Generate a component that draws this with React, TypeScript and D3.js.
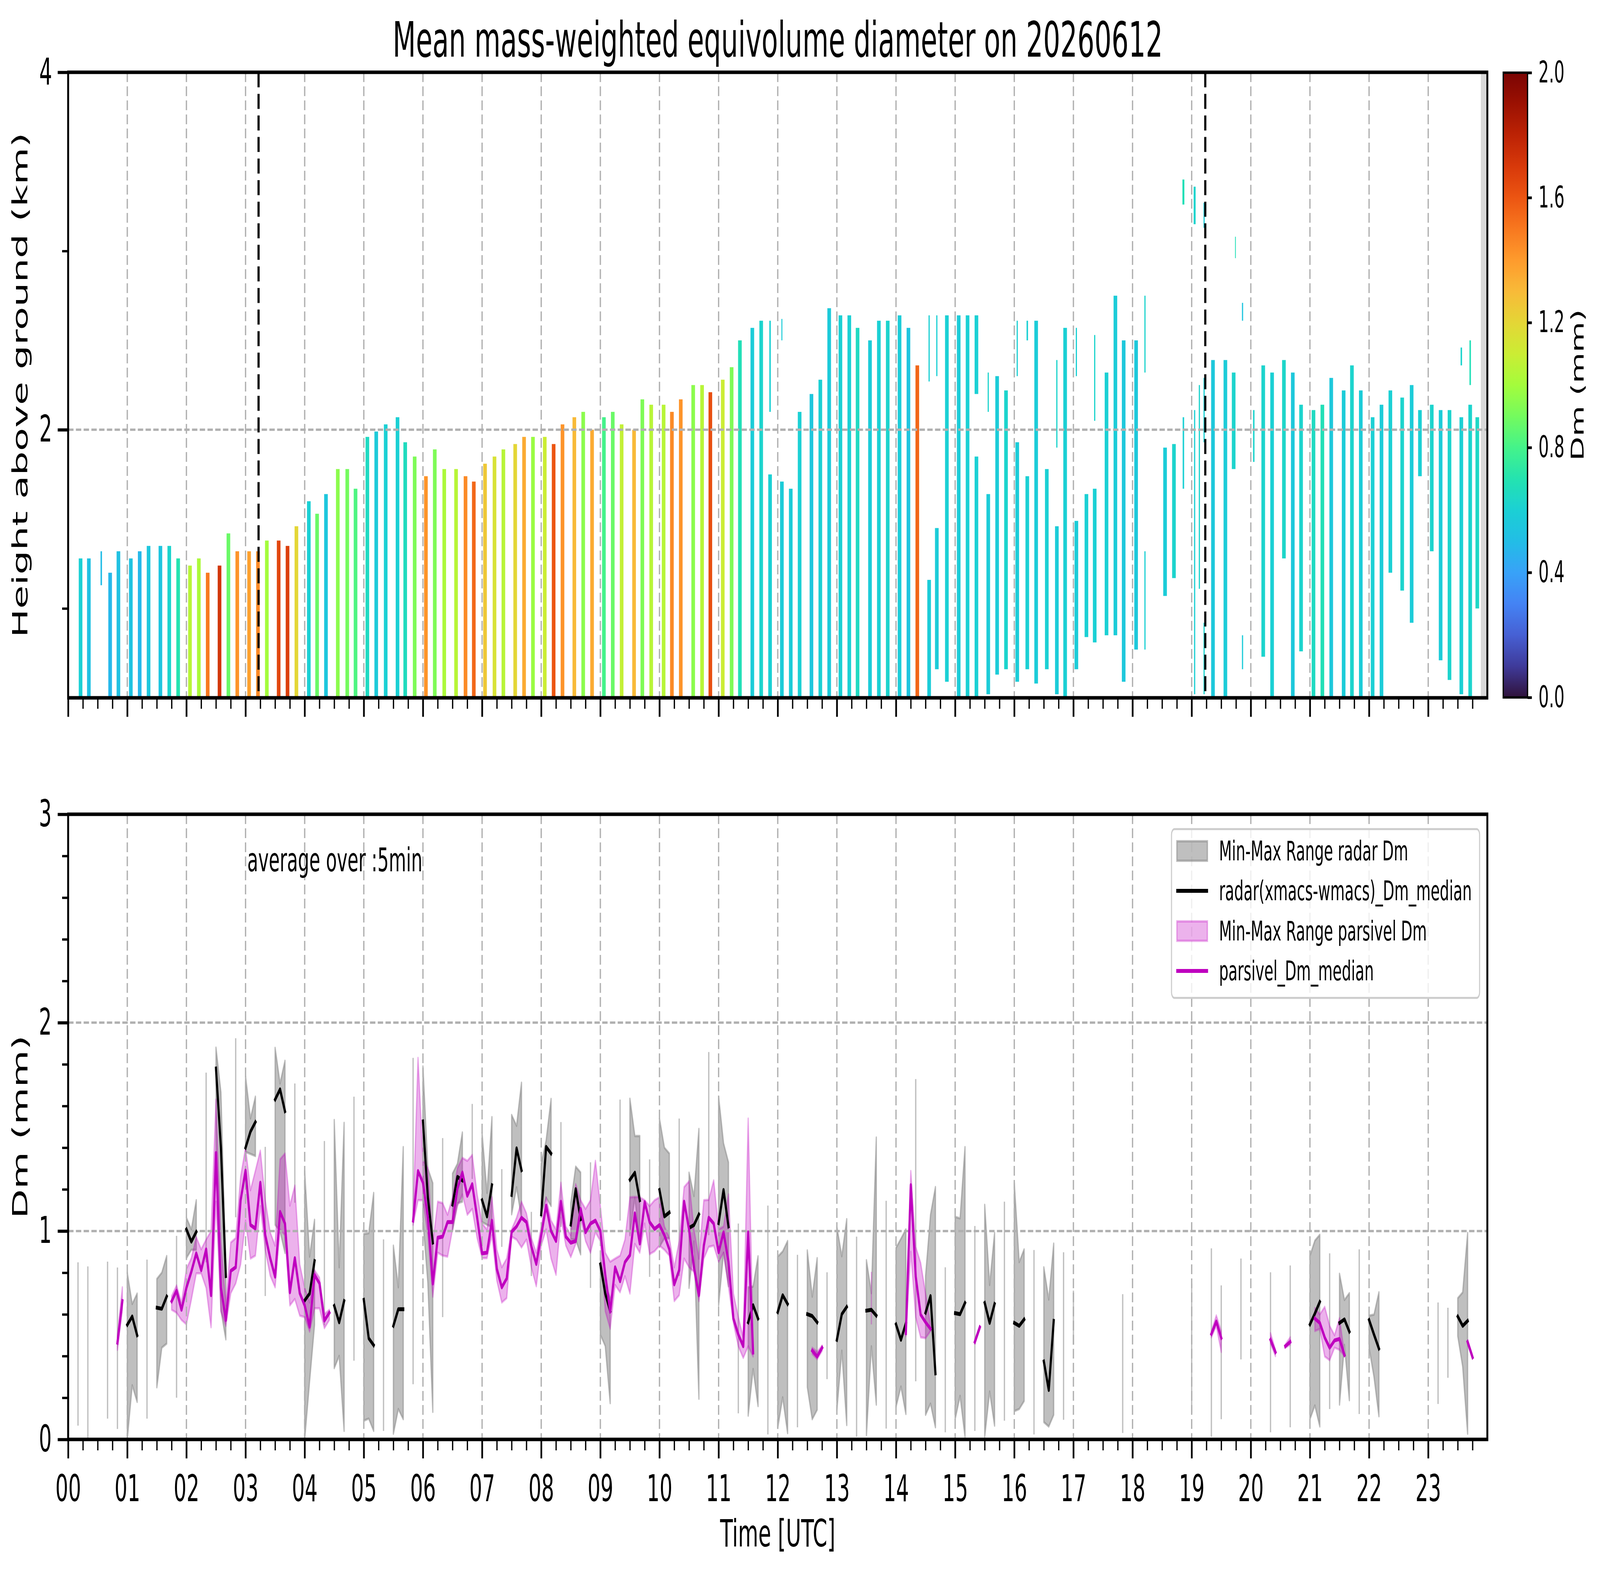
import React, { useEffect, useRef } from "react";
import * as d3 from "d3";

// ---------------- data ----------------
const TITLE = "Mean mass-weighted equivolume diameter on 20260612";
const hourLabels = ["00","01","02","03","04","05","06","07","08","09","10","11","12","13","14","15","16","17","18","19","20","21","22","23"];
const heightTicks = [2, 4];
const heightMinorTicks = [1, 3];
const dmAxisTicks = [0, 1, 2, 3];
const dmColorTicks = [0, 0.4, 0.8, 1.2, 1.6, 2.0];
const eventLines = [3.22, 19.23]; // hours (UTC)
const missingSpan = [23.89, 24.0];

// colour map anchors (0 -> 2 mm)
const cmapColors = ["#30123b","#3f3a9a","#4660d4","#4483f4","#38a2f8","#22bde6","#1bd0d4","#24e3b0","#44f38a","#74fb5e",
  "#a4fc3c","#cbed34","#e4d636","#f8ba38","#fe9b2d","#f8781f","#ec5512","#d8390a","#bc2305","#9c1102","#7a0403"];

// radar profiles: [hour, base km, top km, Dm mm, scan minutes]
const profiles: number[][] = [
  [0.21,0.5,1.28,0.60,3.7],[0.35,0.5,1.28,0.52,3.7],[0.56,1.13,1.32,0.50,1.5],[0.71,0.5,1.20,0.48,3.7],
  [0.85,0.5,1.32,0.52,3.7],[1.06,0.5,1.28,0.53,3.7],[1.21,0.5,1.32,0.48,3.7],[1.36,0.5,1.35,0.55,3.7],
  [1.56,0.5,1.35,0.54,3.7],[1.71,0.5,1.35,0.62,3.7],[1.86,0.5,1.28,0.70,3.7],[2.06,0.5,1.24,1.05,3.7],
  [2.21,0.5,1.28,1.02,3.7],[2.36,0.5,1.20,1.50,3.7],[2.56,0.5,1.24,1.72,3.7],[2.71,0.5,1.42,0.88,3.7],
  [2.86,0.5,1.32,1.42,3.7],[3.06,0.5,1.32,1.38,3.7],[3.21,0.5,1.32,1.45,3.7],[3.36,0.5,1.38,1.00,3.7],
  [3.56,0.5,1.38,1.65,3.7],[3.71,0.5,1.35,1.68,3.7],[3.86,0.5,1.46,1.20,3.7],[4.07,0.5,1.60,0.60,3.7],
  [4.21,0.5,1.53,0.88,3.7],[4.36,0.5,1.64,0.55,3.7],[4.56,0.5,1.78,0.95,3.7],[4.72,0.5,1.78,0.90,3.7],
  [4.86,0.5,1.67,0.82,3.7],[5.06,0.5,1.96,0.65,3.7],[5.21,0.5,1.99,0.57,3.7],[5.37,0.5,2.03,0.60,3.7],
  [5.57,0.5,2.07,0.60,3.7],[5.70,0.5,1.93,0.66,3.7],[5.86,0.5,1.85,0.92,3.7],[6.05,0.5,1.74,1.42,3.7],
  [6.20,0.5,1.89,0.92,3.7],[6.36,0.5,1.78,1.02,3.7],[6.56,0.5,1.78,1.05,3.7],[6.72,0.5,1.74,1.45,3.7],
  [6.86,0.5,1.71,1.55,3.7],[7.05,0.5,1.81,1.25,3.7],[7.21,0.5,1.85,1.15,3.7],[7.36,0.5,1.89,1.05,3.7],
  [7.56,0.5,1.92,1.20,3.7],[7.71,0.5,1.96,1.35,3.7],[7.86,0.5,1.96,0.98,3.7],[8.06,0.5,1.96,1.10,3.7],
  [8.21,0.5,1.92,1.60,3.7],[8.36,0.5,2.03,1.42,3.7],[8.56,0.5,2.07,1.30,3.7],[8.71,0.5,2.10,0.95,3.7],
  [8.86,0.5,2.00,1.35,3.7],[9.06,0.5,2.07,0.80,3.7],[9.21,0.5,2.10,0.88,3.7],[9.36,0.5,2.03,1.08,3.7],
  [9.57,0.5,2.00,1.30,3.7],[9.71,0.5,2.17,0.92,3.7],[9.86,0.5,2.14,1.05,3.7],[10.07,0.5,2.14,1.05,3.7],
  [10.21,0.5,2.10,1.45,3.7],[10.36,0.5,2.17,1.42,3.7],[10.57,0.5,2.25,0.95,3.7],[10.72,0.5,2.25,1.05,3.7],
  [10.86,0.5,2.21,1.62,3.7],[11.07,0.5,2.28,1.10,3.7],[11.22,0.5,2.35,0.92,3.7],[11.36,0.5,2.50,0.68,3.7],
  [11.57,0.5,2.57,0.58,3.7],[11.72,0.5,2.61,0.62,3.7],[11.87,2.10,2.61,0.60,1.5],[11.87,0.5,1.75,0.60,3.7],
  [12.07,0.5,1.71,0.58,3.7],[12.07,2.50,2.62,0.58,1.0],[12.22,0.5,1.67,0.58,3.7],[12.37,0.5,2.10,0.60,3.7],
  [12.57,0.5,2.20,0.55,3.7],[12.72,0.5,2.28,0.60,3.7],[12.87,0.5,2.68,0.57,3.7],[13.06,0.5,2.64,0.60,3.7],
  [13.21,0.5,2.64,0.60,3.7],[13.35,0.5,2.57,0.65,3.7],[13.56,0.5,2.50,0.58,3.7],[13.71,0.5,2.61,0.60,3.7],
  [13.86,0.5,2.61,0.62,3.7],[14.06,0.5,2.64,0.58,3.7],[14.21,0.5,2.57,0.54,3.7],[14.36,0.5,2.36,1.55,3.7],
  [14.56,2.27,2.64,0.60,1.2],[14.56,0.5,1.16,0.58,3.7],[14.69,2.30,2.64,0.60,1.2],[14.69,0.66,1.45,0.58,3.7],
  [14.86,0.59,2.64,0.60,3.7],[15.06,0.5,2.64,0.58,3.7],[15.21,0.5,2.64,0.60,3.7],[15.36,2.20,2.64,0.60,3.7],
  [15.36,0.5,1.85,0.60,3.7],[15.56,2.10,2.32,0.62,1.2],[15.56,0.52,1.64,0.58,3.7],[15.71,0.63,2.30,0.58,3.7],
  [15.86,0.66,2.22,0.62,3.7],[16.05,2.30,2.61,0.60,1.2],[16.05,0.59,1.93,0.58,3.7],[16.22,2.50,2.61,0.60,1.5],
  [16.22,0.66,1.74,0.60,3.7],[16.37,0.58,2.61,0.58,3.7],[16.55,0.66,1.78,0.60,3.7],[16.72,1.90,2.39,0.62,1.2],
  [16.72,0.52,1.46,0.58,3.7],[16.86,0.5,2.57,0.60,3.7],[17.05,2.30,2.57,0.60,1.2],[17.05,0.66,1.49,0.58,3.7],
  [17.22,0.84,1.64,0.60,3.7],[17.36,2.05,2.53,0.62,1.2],[17.36,0.81,1.67,0.60,3.7],[17.56,0.85,2.32,0.60,3.7],
  [17.71,0.85,2.75,0.58,3.7],[17.85,0.59,2.50,0.56,3.7],[18.06,0.77,2.50,0.56,3.7],[18.21,2.32,2.75,0.62,1.2],
  [18.21,0.77,1.32,0.60,1.2],[18.55,1.07,1.90,0.58,3.7],[18.70,1.17,1.92,0.62,3.7],[18.86,3.26,3.40,0.68,2.0],
  [18.86,1.67,2.07,0.60,1.5],[19.05,3.15,3.36,0.62,2.0],[19.05,0.52,2.11,0.60,1.2],[19.13,1.11,2.25,0.62,1.2],
  [19.21,3.13,3.27,0.58,1.2],[19.21,1.93,2.29,0.60,1.2],[19.21,0.52,0.92,0.62,1.2],[19.36,0.5,2.39,0.56,3.7],
  [19.57,0.5,2.39,0.58,3.7],[19.71,1.78,2.32,0.62,3.7],[19.74,2.96,3.08,0.68,0.8],[19.86,2.61,2.71,0.54,1.2],
  [19.86,0.66,0.85,0.58,1.2],[20.05,1.82,2.11,0.62,1.5],[20.21,0.73,2.36,0.62,3.7],[20.36,0.5,2.32,0.60,3.7],
  [20.56,1.28,2.39,0.63,3.7],[20.71,0.5,2.32,0.56,3.7],[20.85,0.76,2.14,0.62,3.7],[21.06,0.5,2.11,0.65,3.7],
  [21.21,0.5,2.14,0.68,3.7],[21.36,0.5,2.29,0.56,3.7],[21.57,0.5,2.22,0.58,3.7],[21.71,0.5,2.36,0.62,3.7],
  [21.86,0.5,2.22,0.58,3.7],[22.06,0.5,2.07,0.60,3.7],[22.21,0.5,2.14,0.58,3.7],[22.36,1.20,2.22,0.60,3.7],
  [22.56,1.10,2.18,0.62,3.7],[22.72,0.92,2.25,0.58,3.7],[22.86,1.74,2.11,0.60,3.7],[23.06,1.32,2.14,0.62,3.7],
  [23.21,0.71,2.11,0.58,3.7],[23.36,0.60,2.11,0.62,3.7],[23.56,2.36,2.46,0.62,1.5],[23.56,0.52,2.07,0.60,3.7],
  [23.71,2.25,2.50,0.68,1.5],[23.71,0.5,2.14,0.62,3.7],[23.83,1.00,2.07,0.64,3.7],
];

// radar Dm 5-min stats: [minute of day, min, max, median]
const radarDm: (number | null)[][] = [
  [10,0.066,0.85,null],[20,0.006,0.83,null],[40,0.10,0.853,null],[50,0.05,0.825,null],
  [60,0.0,0.80,0.55],[65,0.26,0.65,0.59],[70,0.18,0.70,0.50],[80,0.10,0.863,null],
  [90,0.25,0.77,0.632],[95,0.44,0.80,0.627],[100,0.46,0.88,0.686],[110,0.20,0.977,null],
  [120,0.87,1.064,1.008],[125,0.91,1.008,0.949],[130,0.91,1.148,0.996],[140,0.85,1.76,null],
  [150,1.35,1.88,1.78],[155,0.62,1.666,1.40],[160,0.48,0.82,0.784],[170,1.066,1.925,null],
  [180,1.38,1.743,1.40],[185,1.37,1.54,1.477],[190,1.36,1.645,1.523],[200,0.688,1.404,null],
  [210,1.03,1.879,1.631],[215,1.0,1.708,1.68],[220,0.895,1.817,1.575],[230,1.136,1.708,null],
  [240,0.0,1.288,0.667],[245,0.28,0.877,0.70],[250,0.55,1.054,0.856],[260,0.548,1.432,null],
  [270,0.342,1.533,0.641],[275,0.401,0.826,0.562],[280,0.041,1.519,0.664],[290,0.378,1.645,null],
  [300,0.09,0.986,0.67],[305,0.10,0.99,0.485],[310,0.041,1.183,0.452],[320,0.041,0.96,null],
  [330,0.027,0.93,0.545],[335,0.146,0.73,0.625],[340,0.097,1.403,0.625],[350,0.265,1.831,null],
  [360,1.05,1.79,1.526],[365,0.75,1.30,1.16],[370,0.132,1.23,0.945],[380,0.587,1.446,null],
  [390,1.0,1.276,1.127],[395,1.134,1.323,1.26],[400,1.141,1.473,1.243],[410,1.25,1.61,null],
  [420,1.043,1.47,1.148],[425,1.03,1.183,1.07],[430,1.02,1.547,1.22],[440,0.924,1.297,null],
  [450,1.08,1.557,1.173],[455,1.21,1.505,1.397],[460,1.06,1.712,1.292],[470,0.784,1.092,null],
  [480,1.08,1.323,1.08],[485,1.16,1.435,1.404],[490,1.12,1.634,1.372],[500,1.02,1.523,null],
  [510,0.96,1.134,1.031],[515,0.96,1.309,1.201],[520,0.888,1.281,1.057],[530,0.727,1.33,null],
  [540,0.503,0.87,0.84],[545,0.448,0.74,0.70],[550,0.174,0.68,0.616],[560,1.05,1.631,null],
  [570,0.98,1.635,1.246],[575,1.16,1.456,1.28],[580,0.94,1.456,1.148],[590,0.78,1.344,null],
  [600,0.924,1.54,1.197],[605,0.965,1.40,1.07],[610,0.965,1.372,1.089],[620,0.784,1.54,null],
  [630,0.727,1.28,1.015],[635,0.95,1.168,1.029],[640,0.195,1.49,1.08],[650,0.98,1.859,null],
  [660,0.643,1.645,1.038],[665,0.896,1.421,1.197],[670,0.735,1.33,1.022],[680,0.125,1.036,null],
  [690,0.114,0.73,0.562],[695,0.338,0.734,0.644],[700,0.16,0.879,0.58],[710,0.024,1.122,null],
  [720,0.055,0.877,0.611],[725,0.202,0.902,0.692],[730,0.03,0.952,0.65],[740,0.058,0.886,null],
  [750,0.251,0.907,0.601],[755,0.097,0.685,0.592],[760,0.142,0.87,0.562],[770,0.289,0.802,null],
  [780,0.139,1.02,0.478],[785,0.426,0.879,0.601],[790,0.069,1.057,0.636],[800,0.013,0.973,null],
  [810,0.02,0.86,0.618],[815,0.447,0.702,0.622],[820,0.167,1.449,0.594],[830,0.052,1.145,null],
  [840,0.156,0.919,0.552],[845,0.254,0.963,0.478],[850,0.122,1.008,0.557],[860,0.279,1.729,null],
  [870,0.118,0.784,0.608],[875,0.172,1.078,0.688],[880,0.058,1.211,0.317],[890,0.034,0.826,null],
  [900,0.097,1.068,0.606],[905,0.209,1.061,0.601],[910,0.013,1.403,0.655],[920,0.041,1.024,null],
  [930,0.013,1.126,0.655],[935,0.23,0.741,0.559],[940,0.066,0.991,0.65],[950,0.09,1.141,null],
  [960,0.136,1.232,0.559],[965,0.146,0.851,0.545],[970,0.184,0.912,0.576],[980,0.024,0.909,null],
  [990,0.083,0.826,0.374],[995,0.062,0.671,0.237],[1000,0.118,0.94,0.569],[1010,0.094,0.898,null],
  [1020,0.454,0.714,null],[1070,0.031,0.697,null],[1140,0.125,0.748,null],[1160,0.013,0.917,null],
  [1170,0.097,0.739,null],[1190,0.384,0.868,null],[1220,0.034,0.802,null],[1240,0.058,0.835,null],
  [1260,0.097,0.881,0.552],[1265,0.163,0.954,0.604],[1270,0.062,0.982,0.66],[1280,0.146,0.893,null],
  [1290,0.167,0.795,0.559],[1295,0.454,0.669,0.576],[1300,0.188,0.702,0.517],[1310,0.122,0.912,null],
  [1320,0.44,0.594,0.573],[1325,0.30,0.599,0.503],[1330,0.111,0.706,0.436],[1390,0.17,0.657,null],
  [1400,0.296,0.632,null],[1410,0.496,0.678,0.59],[1415,0.349,0.706,0.545],[1420,0.027,0.991,0.569],
];

// parsivel Dm 5-min stats: [minute of day, min, max, median]
const parsivelDm: number[][] = [
  [50,0.43,0.50,0.464],[55,0.62,0.73,0.664],
  [105,0.622,0.688,0.663],[110,0.608,0.739,0.714],[115,0.573,0.657,0.622],[120,0.552,0.818,0.728],
  [125,0.671,0.87,0.805],[130,0.797,0.971,0.893],[135,0.797,0.912,0.812],[140,0.727,0.959,0.912],
  [145,0.538,1.0,0.692],[150,1.141,1.631,1.375],[155,0.615,0.95,0.728],[160,0.545,0.643,0.573],
  [165,0.702,0.945,0.809],[170,0.748,0.966,0.826],[175,0.84,1.26,1.148],[180,1.05,1.40,1.29],
  [185,0.868,1.196,1.029],[190,0.882,1.29,1.012],[195,1.12,1.386,1.232],[200,0.91,1.148,0.98],
  [205,0.786,0.994,0.87],[210,0.73,0.93,0.781],[215,1.008,1.344,1.092],[220,0.98,1.372,1.036],
  [225,0.643,1.122,0.706],[230,0.674,1.218,0.87],[235,0.594,0.84,0.702],[240,0.587,0.728,0.643],
  [245,0.517,0.657,0.541],[250,0.629,0.812,0.79],[255,0.629,0.776,0.749],[260,0.534,0.601,0.57],
  [265,0.573,0.622,0.608],
  [350,1.03,1.08,1.05],[355,1.148,1.831,1.288],[360,1.148,1.34,1.232],[365,0.98,1.302,1.064],
  [370,0.685,0.938,0.748],[375,0.896,1.141,0.968],[380,0.882,1.134,0.973],[385,0.877,1.078,1.043],
  [390,1.008,1.162,1.043],[395,1.12,1.302,1.204],[400,1.176,1.351,1.281],[405,1.078,1.337,1.169],
  [410,1.106,1.365,1.225],[415,0.966,1.176,1.064],[420,0.87,1.036,0.893],[425,0.87,1.008,0.896],
  [430,0.98,1.162,1.05],[435,0.762,0.91,0.818],[440,0.657,0.826,0.73],[445,0.678,0.868,0.772],
  [450,0.973,1.008,0.996],[455,0.959,1.064,1.022],[460,0.921,1.141,1.064],[465,0.959,1.085,1.043],
  [470,0.826,0.966,0.926],[475,0.735,0.896,0.842],[480,0.93,1.022,0.98],[485,1.008,1.162,1.122],
  [490,0.868,1.05,1.0],[495,0.79,1.008,0.952],[500,1.064,1.232,1.141],[505,0.93,1.022,0.973],
  [510,0.875,0.98,0.944],[515,0.938,1.225,0.952],[520,1.064,1.148,1.106],[525,0.952,1.106,0.994],
  [530,0.896,1.148,1.036],[535,0.994,1.337,1.05],[540,0.952,1.12,1.0],[545,0.615,0.896,0.79],
  [550,0.531,0.853,0.613],[555,0.741,0.868,0.826],[560,0.706,0.882,0.759],[565,0.783,0.959,0.851],
  [570,0.70,1.162,0.884],[575,0.938,1.164,1.085],[580,0.896,1.162,0.94],[585,1.036,1.148,1.139],
  [590,0.889,1.12,1.043],[595,0.903,1.148,1.01],[600,0.93,1.162,1.029],[605,0.91,1.022,0.98],
  [610,0.882,0.966,0.912],[615,0.664,0.826,0.744],[620,0.692,0.952,0.812],[625,0.868,1.211,1.141],
  [630,0.826,1.239,1.008],[635,0.804,1.008,0.826],[640,0.664,0.868,0.692],[645,0.868,1.148,0.93],
  [650,0.924,1.15,1.064],[655,0.93,1.243,1.036],[660,0.853,1.008,0.898],[665,0.896,1.022,0.994],
  [670,0.735,1.176,0.853],[675,0.559,0.70,0.58],[680,0.447,0.587,0.503],[685,0.391,0.489,0.447],
  [690,0.447,1.54,0.994],[695,0.398,0.475,0.417],
  [755,0.41,0.44,0.426],[760,0.385,0.42,0.398],[765,0.425,0.45,0.44],
  [815,0.552,0.804,0.68],
  [850,0.496,0.52,0.51],[855,0.9,1.288,1.22],[860,0.587,0.924,0.781],[865,0.49,0.847,0.599],
  [870,0.486,0.70,0.562],[875,0.52,0.55,0.531],
  [920,0.46,0.475,0.468],[925,0.53,0.545,0.538],
  [1160,0.49,0.52,0.506],[1165,0.545,0.595,0.566],[1170,0.42,0.52,0.487],
  [1220,0.46,0.51,0.478],[1225,0.40,0.43,0.419],[1235,0.44,0.455,0.447],[1240,0.455,0.49,0.468],
  [1265,0.52,0.63,0.58],[1270,0.53,0.60,0.559],[1275,0.398,0.636,0.489],[1280,0.38,0.545,0.44],
  [1285,0.44,0.50,0.475],[1290,0.43,0.582,0.482],[1295,0.40,0.41,0.405],
  [1420,0.46,0.475,0.468],[1425,0.39,0.40,0.394],
];

const legendLabels = [
  "Min-Max Range radar Dm",
  "radar(xmacs-wmacs)_Dm_median",
  "Min-Max Range parsivel Dm",
  "parsivel_Dm_median",
];

// ---------------- drawing ----------------
const W = 7442, H = 4031;
const FONT = "DejaVu Sans";

function splitRuns(rows: any[][]): any[][][] {
  const out: any[][][] = [];
  let cur: any[][] = [];
  rows.forEach((r) => {
    if (cur.length && r[0] - cur[cur.length - 1][0] > 5) { out.push(cur); cur = []; }
    cur.push(r);
  });
  if (cur.length) out.push(cur);
  return out;
}

function draw(svgEl: SVGSVGElement) {
  const svg = d3.select(svgEl);
  svg.selectAll("*").remove();
  svg.append("rect").attr("width", W).attr("height", H).attr("fill", "#fff");

  const L = 317, R = 6918;
  const tTop = 185, tBot = 1786;
  const bTop = 2084, bBot = 3684;
  const x = d3.scaleLinear().domain([0, 24]).range([L, R]);
  const yT = d3.scaleLinear().domain([0.5, 4]).range([tBot, tTop]);
  const yB = d3.scaleLinear().domain([0, 3]).range([bBot, bTop]);
  const color = d3.scaleSequential(d3.piecewise(d3.interpolateRgb, cmapColors)).domain([0, 2]);

  const defs = svg.append("defs");
  defs.append("clipPath").attr("id", "clipTop").append("rect").attr("x", L).attr("y", tTop).attr("width", R - L).attr("height", tBot - tTop);
  defs.append("clipPath").attr("id", "clipBot").append("rect").attr("x", L).attr("y", bTop).attr("width", R - L).attr("height", bBot - bTop);

  const gridStyle = (sel: any) => sel.attr("stroke", "#b0b0b0").attr("stroke-width", 6).attr("stroke-dasharray", "25,11").attr("fill", "none");
  const hours = d3.range(1, 24);

  // ---------- top panel ----------
  const gt = svg.append("g").attr("clip-path", "url(#clipTop)");
  gt.append("rect").attr("x", x(missingSpan[0])).attr("y", tTop).attr("width", x(missingSpan[1]) - x(missingSpan[0])).attr("height", tBot - tTop).attr("fill", "#d9d9d9");
  gt.selectAll("rect.prof").data(profiles).enter().append("rect")
    .attr("x", (d) => x(d[0] - d[4] / 120))
    .attr("width", (d) => x(d[4] / 60) - x(0))
    .attr("y", (d) => yT(d[2]))
    .attr("height", (d) => yT(d[1]) - yT(d[2]))
    .attr("fill", (d) => color(d[3]));
  gt.selectAll("line.vg").data(hours).enter().append("line")
    .attr("x1", (d) => x(d)).attr("x2", (d) => x(d)).attr("y1", tTop).attr("y2", tBot).call(gridStyle);
  gt.append("line").attr("x1", L).attr("x2", R).attr("y1", yT(2)).attr("y2", yT(2)).call(gridStyle);
  gt.selectAll("line.ev").data(eventLines).enter().append("line")
    .attr("x1", (d) => x(d)).attr("x2", (d) => x(d)).attr("y1", tTop).attr("y2", tBot)
    .attr("stroke", "#000").attr("stroke-width", 10).attr("stroke-dasharray", "38.5,16.7");

  // ---------- bottom panel ----------
  const gb = svg.append("g").attr("clip-path", "url(#clipBot)");
  const radarRuns = splitRuns(radarDm);
  const parsRuns = splitRuns(parsivelDm);
  const area = d3.area<any>().x((d) => x(d[0] / 60)).y0((d) => yB(d[1])).y1((d) => yB(d[2]));
  const line = d3.line<any>().defined((d) => d[3] != null).x((d) => x(d[0] / 60)).y((d) => yB(d[3]));

  const drawRange = (runs: any[][][], col: string, op: number) => {
    runs.forEach((run) => {
      if (run.length === 1) {
        const d = run[0];
        gb.append("line").attr("x1", x(d[0] / 60)).attr("x2", x(d[0] / 60)).attr("y1", yB(d[1])).attr("y2", yB(d[2]))
          .attr("stroke", col).attr("stroke-opacity", op).attr("stroke-width", 6);
      } else {
        gb.append("path").attr("d", area(run)).attr("fill", col).attr("fill-opacity", op)
          .attr("stroke", col).attr("stroke-opacity", op).attr("stroke-width", 6).attr("stroke-linejoin", "round");
      }
    });
  };
  drawRange(radarRuns, "#808080", 0.5);
  drawRange(parsRuns, "#bf00bf", 0.3);

  gb.selectAll("line.vg").data(hours).enter().append("line")
    .attr("x1", (d) => x(d)).attr("x2", (d) => x(d)).attr("y1", bTop).attr("y2", bBot).call(gridStyle);
  [1, 2].forEach((v) => gb.append("line").attr("x1", L).attr("x2", R).attr("y1", yB(v)).attr("y2", yB(v)).call(gridStyle));

  const drawMedian = (runs: any[][][], col: string) => {
    runs.forEach((run) => {
      if (run.length < 2) return;
      gb.append("path").attr("d", line(run)).attr("fill", "none").attr("stroke", col).attr("stroke-width", 10)
        .attr("stroke-linejoin", "round").attr("stroke-linecap", "square");
    });
  };
  drawMedian(radarRuns, "#000");
  drawMedian(parsRuns, "#bf00bf");

  svg.append("text").attr("x", 1150).attr("y", 2230).attr("font-family", FONT).attr("font-size", 83).text("average over :5min");

  // legend
  const lg = svg.append("g");
  lg.append("rect").attr("x", 5449).attr("y", 2122).attr("width", 1433).attr("height", 432).attr("rx", 14)
    .attr("fill", "#fff").attr("fill-opacity", 0.8).attr("stroke", "#cccccc").attr("stroke-width", 5);
  const rowY = [2178, 2280, 2383, 2485];
  lg.append("rect").attr("x", 5474).attr("y", rowY[0] - 25).attr("width", 142).attr("height", 50)
    .attr("fill", "#808080").attr("fill-opacity", 0.5).attr("stroke", "#808080").attr("stroke-opacity", 0.5).attr("stroke-width", 6);
  lg.append("line").attr("x1", 5471).attr("x2", 5619).attr("y1", rowY[1]).attr("y2", rowY[1]).attr("stroke", "#000").attr("stroke-width", 10);
  lg.append("rect").attr("x", 5474).attr("y", rowY[2] - 25).attr("width", 142).attr("height", 50)
    .attr("fill", "#bf00bf").attr("fill-opacity", 0.3).attr("stroke", "#bf00bf").attr("stroke-opacity", 0.3).attr("stroke-width", 6);
  lg.append("line").attr("x1", 5471).attr("x2", 5619).attr("y1", rowY[3]).attr("y2", rowY[3]).attr("stroke", "#bf00bf").attr("stroke-width", 10);
  legendLabels.forEach((t, i) => {
    lg.append("text").attr("x", 5670).attr("y", rowY[i]).attr("dy", "0.35em").attr("font-family", FONT).attr("font-size", 69).text(t);
  });

  // ---------- spines & axes ----------
  const spine = (y0: number, y1: number) =>
    svg.append("rect").attr("x", L).attr("y", y0).attr("width", R - L).attr("height", y1 - y0).attr("fill", "none").attr("stroke", "#000").attr("stroke-width", 9);
  spine(tTop, tBot);
  spine(bTop, bBot);

  const minorX = d3.range(0, 97).map((i) => i / 4).filter((v) => v % 1 !== 0);
  const styleAxis = (g: any, sw: number, fs: number) => {
    g.select(".domain").remove();
    g.selectAll("line").attr("stroke", "#000").attr("stroke-width", sw);
    g.selectAll("text").attr("font-family", FONT).attr("font-size", fs).attr("fill", "#000");
  };
  [tBot, bBot].forEach((yy, k) => {
    const gMaj = svg.append("g").attr("transform", `translate(0,${yy})`)
      .call(d3.axisBottom(x).tickValues(d3.range(0, 24)).tickSize(48.6).tickSizeOuter(0).tickPadding(43)
        .tickFormat((d: any) => (k === 1 ? hourLabels[d] : "")));
    styleAxis(gMaj, 8, 94);
    const gMin = svg.append("g").attr("transform", `translate(0,${yy})`)
      .call(d3.axisBottom(x).tickValues(minorX).tickSize(28).tickSizeOuter(0).tickFormat(() => ""));
    styleAxis(gMin, 6, 10);
  });

  const gyT = svg.append("g").attr("transform", `translate(${L},0)`)
    .call(d3.axisLeft(yT).tickValues(heightTicks).tickSize(48.6).tickSizeOuter(0).tickPadding(26).tickFormat(d3.format("d")));
  styleAxis(gyT, 8, 94);
  const gyTm = svg.append("g").attr("transform", `translate(${L},0)`)
    .call(d3.axisLeft(yT).tickValues(heightMinorTicks).tickSize(28).tickSizeOuter(0).tickFormat(() => ""));
  styleAxis(gyTm, 6, 10);

  const gyB = svg.append("g").attr("transform", `translate(${L},0)`)
    .call(d3.axisLeft(yB).tickValues(dmAxisTicks).tickSize(48.6).tickSizeOuter(0).tickPadding(28).tickFormat(d3.format("d")));
  styleAxis(gyB, 8, 94);
  const minorY = d3.range(1, 15).map((i) => i / 5).filter((v) => Math.abs(v - Math.round(v)) > 1e-6);
  const gyBm = svg.append("g").attr("transform", `translate(${L},0)`)
    .call(d3.axisLeft(yB).tickValues(minorY).tickSize(28).tickSizeOuter(0).tickFormat(() => ""));
  styleAxis(gyBm, 6, 10);

  // labels
  svg.append("text").attr("x", (L + R) / 2).attr("y", 145).attr("text-anchor", "middle").attr("font-family", FONT).attr("font-size", 125).text(TITLE);
  svg.append("text").attr("transform", `translate(128,${(tTop + tBot) / 2}) rotate(-90)`).attr("text-anchor", "middle")
    .attr("font-family", FONT).attr("font-size", 98).text("Height above ground (km)");
  svg.append("text").attr("transform", `translate(128,${(bTop + bBot) / 2}) rotate(-90)`).attr("text-anchor", "middle")
    .attr("font-family", FONT).attr("font-size", 98).text("Dm (mm)");
  svg.append("text").attr("x", (L + R) / 2).attr("y", 3958).attr("text-anchor", "middle").attr("font-family", FONT).attr("font-size", 97).text("Time [UTC]");

  // ---------- colorbar ----------
  const cbX = 6992, cbW = 113, cbTop = 186, cbBot = 1785;
  const grad = defs.append("linearGradient").attr("id", "cbGrad").attr("x1", 0).attr("x2", 0).attr("y1", 1).attr("y2", 0);
  d3.range(0, 101).forEach((i) => grad.append("stop").attr("offset", `${i}%`).attr("stop-color", color((i / 100) * 2)));
  svg.append("rect").attr("x", cbX).attr("y", cbTop).attr("width", cbW).attr("height", cbBot - cbTop).attr("fill", "url(#cbGrad)")
    .attr("stroke", "#000").attr("stroke-width", 6);
  const cbScale = d3.scaleLinear().domain([0, 2]).range([cbBot, cbTop]);
  const gcb = svg.append("g").attr("transform", `translate(${cbX + cbW},0)`)
    .call(d3.axisRight(cbScale).tickValues(dmColorTicks).tickSize(20).tickSizeOuter(0).tickPadding(31).tickFormat(d3.format(".1f")));
  styleAxis(gcb, 7, 76);
  svg.append("text").attr("transform", `translate(7365,${(cbTop + cbBot) / 2}) rotate(-90)`).attr("text-anchor", "middle")
    .attr("font-family", FONT).attr("font-size", 81).text("Dm (mm)");
}

export default function App() {
  const ref = useRef<SVGSVGElement>(null);
  useEffect(() => {
    document.body.style.margin = "0";
    if (ref.current) draw(ref.current);
  }, []);
  return (
    <svg ref={ref} viewBox={`0 0 ${W} ${H}`} preserveAspectRatio="none"
      style={{ position: "fixed", left: 0, top: 0, width: "100vw", height: "100vh", display: "block", background: "#fff" }} />
  );
}
